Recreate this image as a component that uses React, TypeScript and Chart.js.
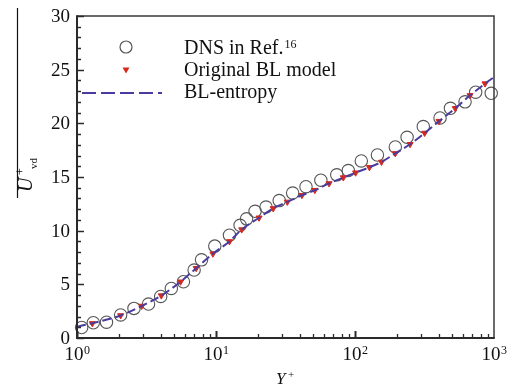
import React, { useEffect, useRef } from 'react';
import { Chart, registerables } from 'chart.js';
Chart.register(...registerables);

// DNS in Ref.16 (circles)
const dnsX = [1.08, 1.31, 1.63, 2.06, 2.57, 3.27, 4.0, 4.77, 5.83, 6.96, 7.87, 9.8, 12.5, 14.9, 16.6, 19.1, 22.9, 28.5, 35.6, 44.4, 56.8, 73.9, 89.5, 111, 145, 195, 237, 310, 409, 486, 619, 738, 955];
const dnsY = [0.98, 1.42, 1.47, 2.15, 2.76, 3.16, 3.87, 4.62, 5.24, 6.33, 7.28, 8.56, 9.58, 10.5, 11.1, 11.8, 12.2, 12.8, 13.5, 14.1, 14.7, 15.2, 15.6, 16.5, 17.05, 17.8, 18.7, 19.7, 20.5, 21.4, 22.0, 22.9, 22.8];

// Original BL model (triangles)
const blX = [1.29, 2.06, 2.92, 4.04, 5.56, 7.2, 9.5, 12.5, 15.3, 20.4, 25.8, 32.6, 41.5, 51.4, 65.1, 82.4, 101, 127, 155, 195, 249, 317, 402, 526, 672, 862];
const blY = [1.36, 2.1, 2.98, 3.95, 5.24, 6.5, 7.85, 9.0, 10.1, 11.2, 12.07, 12.68, 13.3, 13.77, 14.4, 14.95, 15.4, 15.9, 16.4, 17.2, 18.05, 19.1, 20.2, 21.4, 22.6, 23.7];

// BL-entropy (dashed line)
const entX = [1, 1.29, 2.06, 2.92, 4.04, 5.56, 7.2, 9.5, 12.5, 15.3, 20.4, 25.8, 32.6, 41.5, 51.4, 65.1, 82.4, 101, 127, 155, 195, 249, 317, 402, 526, 672, 862, 1000];
const entY = [1.05, 1.38, 2.1, 2.98, 3.95, 5.24, 6.5, 7.85, 9.0, 10.1, 11.2, 12.07, 12.68, 13.3, 13.77, 14.4, 14.95, 15.4, 15.9, 16.4, 17.2, 18.05, 19.1, 20.2, 21.4, 22.6, 23.7, 24.3];

const xExponents = ['0', '1', '2', '3'];
const yTicks = [0, 5, 10, 15, 20, 25, 30];
const legendLabels = ['DNS in Ref.', 'Original BL model', 'BL-entropy'];
const legendSup = '16';

const SERIF = '"Liberation Serif", "Times New Roman", serif';
const LINE_COLOR = '#4a3c9e';
const TRI_COLOR = '#d42a1e';
const CIRCLE_COLOR = '#555555';
const TEXT_COLOR = '#111111';

export default function App() {
  const ref = useRef<HTMLCanvasElement>(null);

  useEffect(() => {
    const canvas = ref.current;
    if (!canvas) return;

    const overlay = {
      id: 'overlay',
      afterDraw(chart: any) {
        const { ctx, chartArea: a, scales } = chart;
        const xs = scales.x;
        const ys = scales.y;
        ctx.save();

        // frame
        ctx.strokeStyle = '#3a3a3a';
        ctx.lineWidth = 1.5;
        ctx.beginPath();
        ctx.moveTo(a.left, a.top);
        ctx.lineTo(a.right, a.top);
        ctx.lineTo(a.right, a.bottom);
        ctx.stroke();
        ctx.strokeStyle = '#2a2a2a';
        ctx.lineWidth = 2;
        ctx.beginPath();
        ctx.moveTo(a.left, a.top - 0.75);
        ctx.lineTo(a.left, a.bottom);
        ctx.lineTo(a.right + 0.75, a.bottom);
        ctx.stroke();

        // y ticks
        ctx.lineWidth = 1.5;
        for (let v = 0; v <= 30; v++) {
          const py = Math.round(ys.getPixelForValue(v)) + 0.5;
          const len = v % 5 === 0 ? 7 : 4;
          ctx.beginPath();
          ctx.moveTo(a.left, py);
          ctx.lineTo(a.left + len, py);
          ctx.stroke();
        }
        // x ticks
        for (let d = 0; d < 3; d++) {
          for (let m = 1; m <= 9; m++) {
            const px = Math.round(xs.getPixelForValue(m * Math.pow(10, d))) + 0.5;
            const len = m === 1 ? 7 : 4;
            ctx.lineWidth = m === 1 ? 2 : 1.3;
            ctx.beginPath();
            ctx.moveTo(px, a.bottom);
            ctx.lineTo(px, a.bottom - len);
            ctx.stroke();
          }
        }

        // y tick labels
        ctx.fillStyle = TEXT_COLOR;
        ctx.font = `19px ${SERIF}`;
        ctx.textAlign = 'right';
        ctx.textBaseline = 'middle';
        yTicks.forEach((v) => {
          ctx.fillText(String(v), a.left - 7, ys.getPixelForValue(v) + 1);
        });

        // x tick labels
        ctx.textAlign = 'left';
        ctx.textBaseline = 'alphabetic';
        xExponents.forEach((e, i) => {
          const px = xs.getPixelForValue(Math.pow(10, i));
          ctx.font = `19px ${SERIF}`;
          const w1 = ctx.measureText('10').width;
          ctx.font = `12px ${SERIF}`;
          const w2 = ctx.measureText(e).width;
          const start = px - (w1 + w2) / 2;
          ctx.font = `19px ${SERIF}`;
          ctx.fillText('10', start, 360);
          ctx.font = `12px ${SERIF}`;
          ctx.fillText(e, start + w1 + 0.5, 354);
        });

        // x title
        ctx.font = `italic 17px ${SERIF}`;
        ctx.fillText('Y', 276, 384);
        ctx.font = `11px ${SERIF}`;
        ctx.fillText('+', 288, 378);

        // y title (rotated, with overline)
        ctx.save();
        ctx.translate(32, 192);
        ctx.rotate(-Math.PI / 2);
        ctx.font = `italic 20px ${SERIF}`;
        ctx.fillText('U', 0, 0);
        ctx.font = `12px ${SERIF}`;
        ctx.fillText('+', 17, -8);
        ctx.font = `11px ${SERIF}`;
        ctx.fillText('vd', 23, 5);
        ctx.restore();
        ctx.strokeStyle = '#111';
        ctx.lineWidth = 1.2;
        ctx.beginPath();
        ctx.moveTo(17.5, 8);
        ctx.lineTo(17.5, 198);
        ctx.stroke();

        // legend
        const lx = 126;
        const rows = [47, 70, 93];
        ctx.strokeStyle = CIRCLE_COLOR;
        ctx.lineWidth = 1.2;
        ctx.beginPath();
        ctx.arc(lx, rows[0], 6, 0, Math.PI * 2);
        ctx.stroke();
        ctx.fillStyle = TRI_COLOR;
        ctx.beginPath();
        ctx.moveTo(lx - 3.5, rows[1] - 2.5);
        ctx.lineTo(lx + 3.5, rows[1] - 2.5);
        ctx.lineTo(lx, rows[1] + 3.5);
        ctx.closePath();
        ctx.fill();
        ctx.strokeStyle = LINE_COLOR;
        ctx.lineWidth = 2;
        ctx.setLineDash([14, 5]);
        ctx.beginPath();
        ctx.moveTo(82, rows[2]);
        ctx.lineTo(162, rows[2]);
        ctx.stroke();
        ctx.setLineDash([]);

        ctx.fillStyle = TEXT_COLOR;
        ctx.font = `20px ${SERIF}`;
        const baselines = [54, 76, 98];
        legendLabels.forEach((t, i) => ctx.fillText(t, 184, baselines[i]));
        const w = ctx.measureText(legendLabels[0]).width;
        ctx.font = `12px ${SERIF}`;
        ctx.fillText(legendSup, 184 + w + 1, 48);

        ctx.restore();
      },
    };

    const chart = new Chart(canvas, {
      type: 'scatter',
      data: {
        datasets: [
          {
            label: 'BL-entropy',
            type: 'line',
            data: entX.map((x, i) => ({ x, y: entY[i] })),
            borderColor: LINE_COLOR,
            borderWidth: 2,
            borderDash: [9, 4],
            pointRadius: 0,
            fill: false,
            cubicInterpolationMode: 'monotone',
            order: 0,
          } as any,
          {
            label: 'Original BL model',
            data: blX.map((x, i) => ({ x, y: blY[i] })),
            pointStyle: 'triangle',
            rotation: 180,
            pointRadius: 3.5,
            backgroundColor: TRI_COLOR,
            borderColor: TRI_COLOR,
            borderWidth: 1,
            clip: false,
            order: 1,
          } as any,
          {
            label: 'DNS in Ref.16',
            data: dnsX.map((x, i) => ({ x, y: dnsY[i] })),
            pointStyle: 'circle',
            pointRadius: 6.2,
            backgroundColor: 'rgba(0,0,0,0)',
            borderColor: CIRCLE_COLOR,
            borderWidth: 1.1,
            clip: false,
            order: 2,
          } as any,
        ],
      },
      options: {
        responsive: false,
        animation: false,
        devicePixelRatio: 1,
        layout: { padding: { left: 77, right: 19, top: 16, bottom: 48 } },
        plugins: { legend: { display: false }, tooltip: { enabled: false } },
        scales: {
          x: { type: 'logarithmic', min: 1, max: 1000, display: false },
          y: { type: 'linear', min: 0, max: 30, display: false },
        },
      },
      plugins: [overlay],
    });
    return () => chart.destroy();
  }, []);

  return (
    <div style={{ position: 'absolute', left: 0, top: 0, width: 513, height: 386, background: '#fff' }}>
      <canvas ref={ref} width={513} height={386} style={{ display: 'block', width: 513, height: 386 }} />
    </div>
  );
}
